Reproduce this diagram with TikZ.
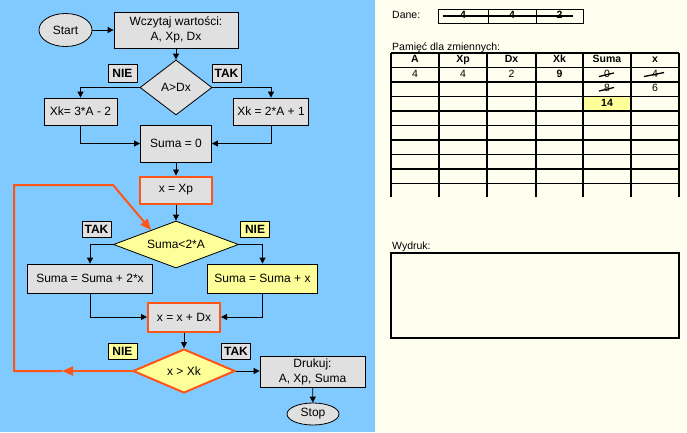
\documentclass[tikz,border=0pt]{standalone}
\usepackage{fontspec}
\setmainfont{Liberation Sans}
\usetikzlibrary{shapes.geometric,arrows.meta}
\definecolor{bgblue}{RGB}{128,202,255}
\definecolor{boxgray}{RGB}{224,224,224}
\definecolor{yel}{RGB}{255,255,153}
\definecolor{orng}{RGB}{255,85,25}
\definecolor{cream}{RGB}{255,255,240}
\begin{document}
\begin{tikzpicture}[x=1pt,y=-1pt,
  fnt/.style={font=\fontsize{12}{15}\selectfont},
  box/.style={fnt,draw=black,line width=0.8pt,fill=boxgray,inner sep=1pt,align=center},
  obox/.style={box,draw=orng,line width=2pt},
  ell/.style={fnt,ellipse,draw=black,line width=0.8pt,fill=boxgray,inner sep=0pt},
  dia/.style={fnt,diamond,draw=black,line width=0.8pt,fill=boxgray,inner sep=0pt},
  lab/.style={font=\fontsize{12}{14}\selectfont\bfseries,draw=black,line width=0.8pt,fill=boxgray,inner sep=0pt,minimum width=29,minimum height=16,text height=8.6pt,text depth=0pt},
  arr/.style={draw=black,line width=0.8pt,-{Triangle[length=6pt,width=6pt]}},
  oline/.style={draw=orng,line width=2pt},
  otip/.style={-{Triangle[length=11pt,width=9pt]}},
  tfnt/.style={font=\fontsize{10.5}{12}\selectfont,inner sep=0pt,text height=7.6pt,text depth=2.2pt},
  hfnt/.style={font=\fontsize{10.5}{12}\selectfont\bfseries,inner sep=0pt,text height=7.6pt,text depth=2.2pt},
  tline/.style={draw=black,line width=1.2pt},
  strike/.style={draw=black,line width=1.3pt}
]
\useasboundingbox (0,0) rectangle (687,432);
\fill[bgblue] (0,0) rectangle (375,432);
\fill[cream] (375,0) rectangle (687,432);

% ---------------- flowchart ----------------
\node[ell,minimum width=53,minimum height=33] (start) at (65.5,30) {Start};
\node[box,minimum width=124,minimum height=36] (read) at (176,30) {Wczytaj wartości:\\A, Xp, Dx};
\node[dia,minimum width=72,minimum height=55,aspect=1.31] (d1) at (176,87.5) {A>Dx};
\node[lab,minimum height=18] (nie1) at (122.5,73) {NIE};
\node[lab,minimum height=18] (tak1) at (226.5,73) {TAK};
\node[box,minimum width=73,minimum height=27] (xk1) at (80.5,111.5) {Xk= 3*A - 2};
\node[box,minimum width=75,minimum height=27] (xk2) at (271,111.5) {Xk = 2*A + 1};
\node[box,minimum width=71,minimum height=37] (s0) at (176,143.5) {Suma = 0};
\node[obox,minimum width=72,minimum height=27] (xp) at (176,190) {x = Xp};
\node[dia,fill=yel,minimum width=125,minimum height=47,aspect=2.66] (d2) at (176,244.5) {Suma<2*A};
\node[lab] (tak2) at (96.5,229.5) {TAK};
\node[lab,fill=yel] (nie2) at (255,229.5) {NIE};
\node[box,minimum width=125,minimum height=29] (s2x) at (90,278.5) {Suma = Suma + 2*x};
\node[box,fill=yel,minimum width=110,minimum height=29] (sx) at (262.5,278.5) {Suma = Suma + x};
\node[obox,minimum width=72,minimum height=29] (xdx) at (184,317) {x = x + Dx};
\node[dia,fill=yel,draw=orng,line width=2pt,minimum width=102,minimum height=44,aspect=2.32] (d3) at (184,371) {x > Xk};
\node[lab,fill=yel] (nie3) at (122.5,351) {NIE};
\node[lab] (tak3) at (236,351) {TAK};
\node[box,minimum width=105,minimum height=31] (pr) at (312.5,371.5) {Drukuj:\\A, Xp, Suma};
\node[ell,minimum width=52,minimum height=22] (stop) at (313,414) {Stop};

\draw[arr] (start.east) -- (start.east -| read.west);
\draw[arr] (read) -- (d1);
\draw[arr] (d1.west) -| (xk1.north);
\draw[arr] (d1.east) -| (xk2.north);
\draw[arr] (xk1.south) |- (s0.west);
\draw[arr] (xk2.south) |- (s0.east);
\draw[arr] (s0) -- (xp);
\draw[arr] (xp) -- (d2);
\draw[arr] (d2.west) -| (s2x.north);
\draw[arr] (d2.east) -| (sx.north);
\draw[arr] (s2x.south) |- (xdx.west);
\draw[arr] (sx.south) |- (xdx.east);
\draw[arr] (xdx) -- (d3);
\draw[arr] (d3.east) -- (d3.east -| pr.west);
\draw[arr] (pr) -- (stop);

% orange loop
\coordinate (lm) at (62,371);
\coordinate (lb) at (14,371);
\coordinate (lt) at (14,185);
\coordinate (lk) at (113,185);
\draw[oline,otip] (d3.west) -- (lm);
\draw[oline,otip] (lm) -- (lb) -- (lt) -- (lk) -- (d2.150);

% ---------------- right panel ----------------
\node[tfnt,anchor=west] (dane) at (392,16) {Dane:};
\node[hfnt,draw=black,line width=1pt,minimum width=50,minimum height=14] (c1) at (463,16) {4};
\node[hfnt,draw=black,line width=1pt,minimum width=48,minimum height=14] (c2) at (512,16) {4};
\node[hfnt,draw=black,line width=1pt,minimum width=47,minimum height=14] (c3) at (559.5,16) {2};
\draw[strike] ([xshift=5pt]c1.west) -- ([xshift=-11pt]c3.east);

\node[tfnt,anchor=base west] (pam) at (392,50) {Pamięć dla zmiennych:};
\fill[yel] (583,96.5) rectangle (631,111);
\foreach \k in {0,...,9} \draw[tline] (391,{53+14.5*\k}) -- (679,{53+14.5*\k});
\foreach \x in {391,439,487,536,583,631,679} \draw[tline] (\x,53) -- (\x,197);

\node[hfnt] (hA) at (415,60.25) {A};
\node[hfnt] (hXp) at (463,60.25) {Xp};
\node[hfnt] (hDx) at (511.5,60.25) {Dx};
\node[hfnt] (hXk) at (559.5,60.25) {Xk};
\node[hfnt] (hS) at (607,60.25) {Suma};
\node[hfnt] (hx) at (655,60.25) {x};

\node[tfnt] (vA) at (415,74.75) {4};
\node[tfnt] (vXp) at (463,74.75) {4};
\node[tfnt] (vDx) at (511.5,74.75) {2};
\node[hfnt] (vXk) at (559.5,74.75) {9};
\node[tfnt] (vS1) at (607,74.75) {0};
\draw[strike] (vS1.center) ++(-8,1.8) -- ++(15,-3.6);
\node[tfnt] (vx1) at (655,74.75) {4};
\draw[strike] (vx1.center) ++(-11,1.8) -- ++(20,-4);
\node[tfnt] (vS2) at (607,89.25) {8};
\draw[strike] (vS2.center) ++(-8,1.8) -- ++(15,-3.6);
\node[tfnt] (vx2) at (655,89.25) {6};
\node[hfnt] (vS3) at (607,103.75) {14};

\node[tfnt,anchor=base west] (wyd) at (392,249) {Wydruk:};
\draw[draw=black,line width=2.5pt] (391,253) rectangle (679,338);
\end{tikzpicture}
\end{document}
